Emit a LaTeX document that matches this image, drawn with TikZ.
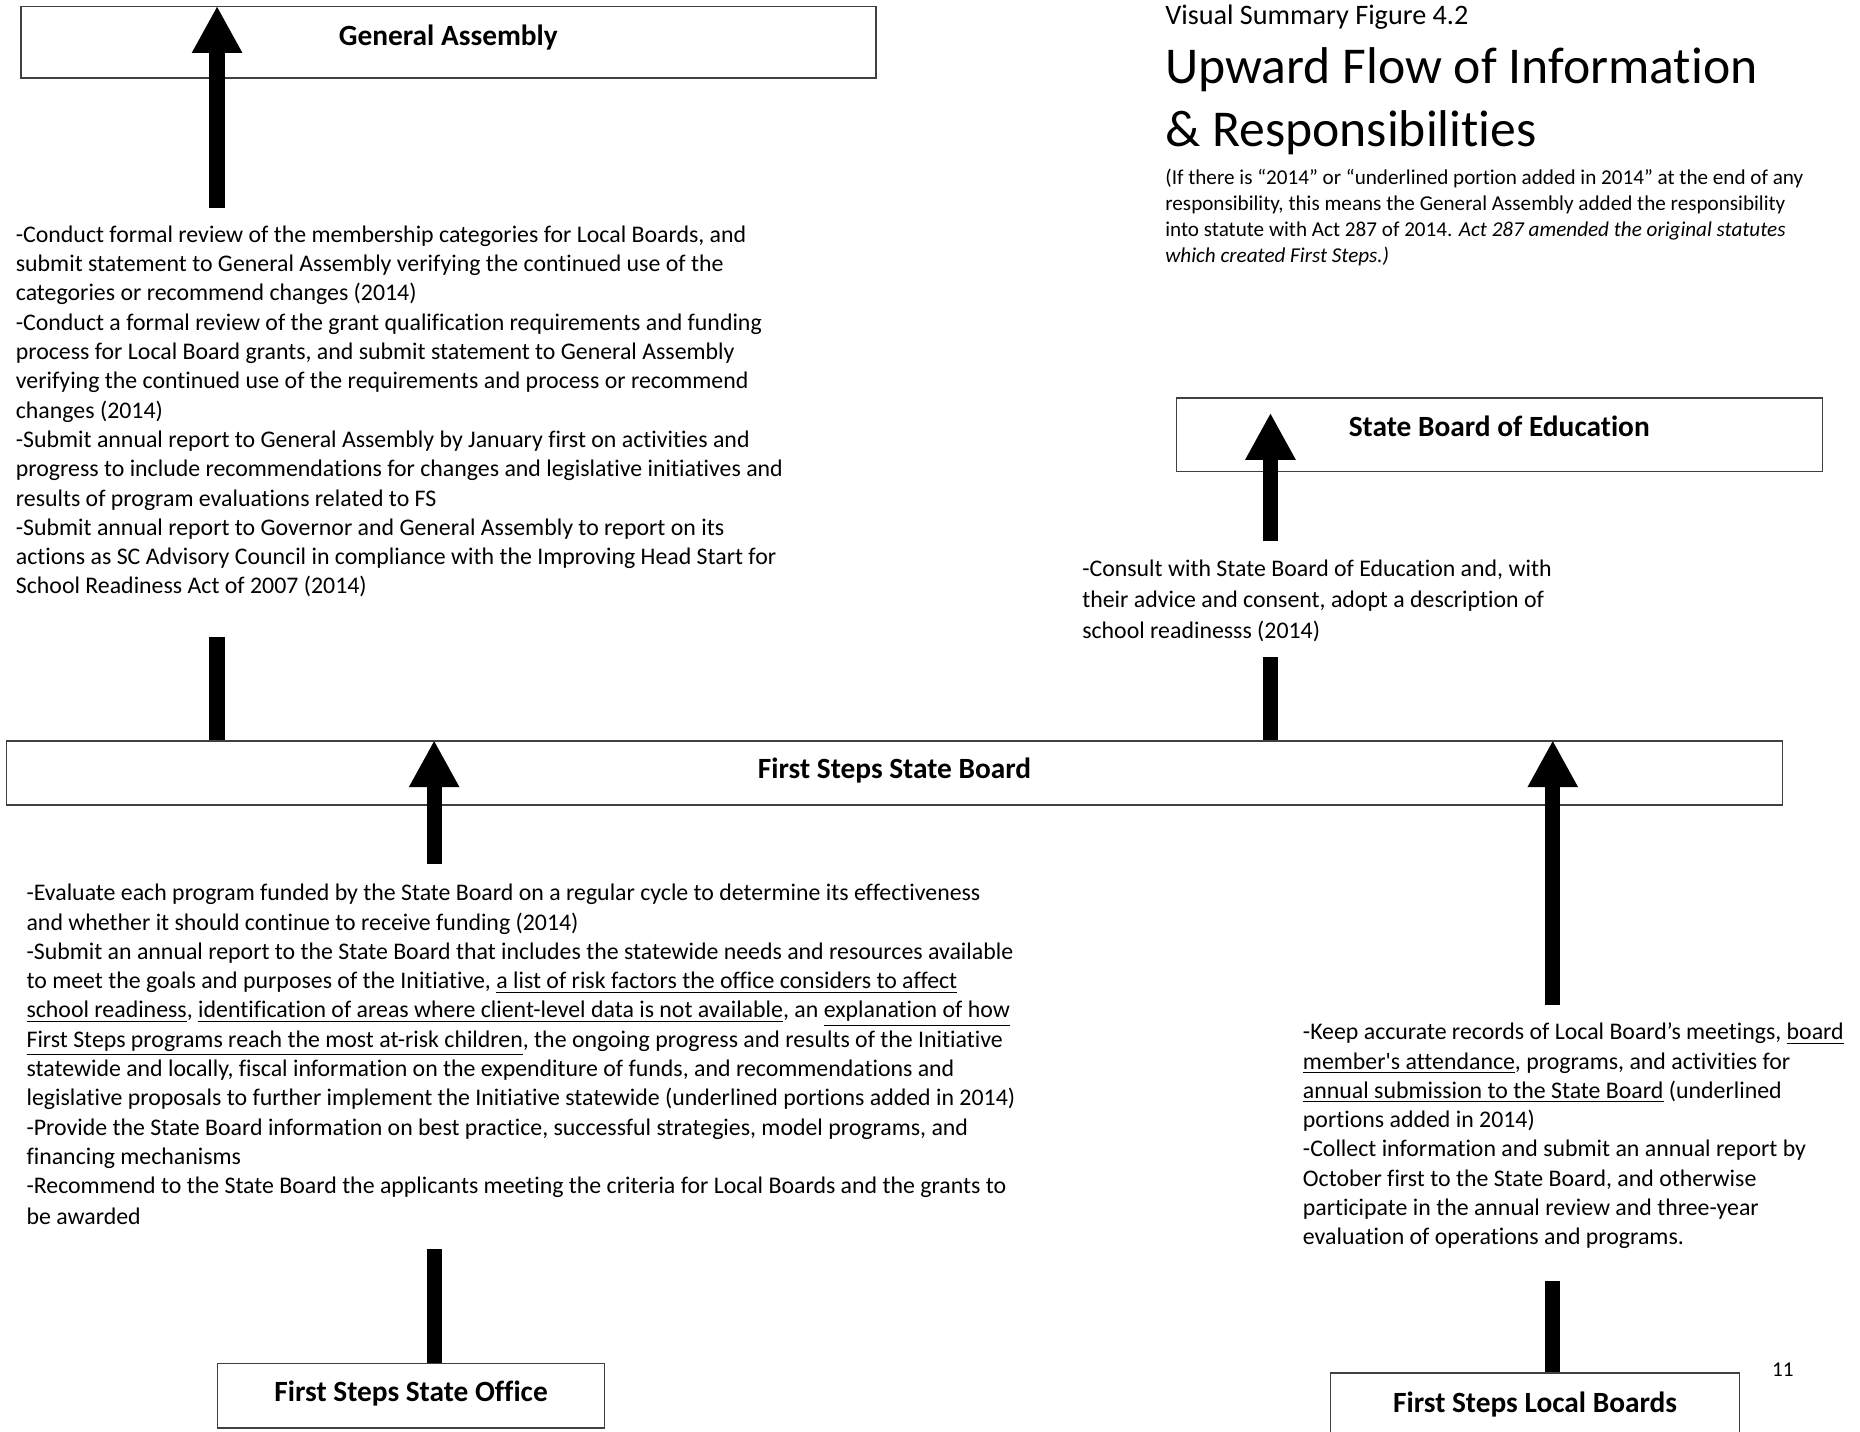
\documentclass[tikz,border=0pt]{standalone}
\usepackage{fontspec}
\setmainfont{Carlito}[Ligatures={TeX,NoCommon}]
\usetikzlibrary{arrows.meta, positioning}

\begin{document}
\begin{tikzpicture}[x=0.505pt, y=-0.505pt,
    every node/.style={inner sep=0pt},
    orgbox/.style={draw=black!75, line width=0.6pt, fill=white, anchor=north west,
      font=\fontsize{12.5}{14}\selectfont\bfseries, text height=8.8pt},
    duties/.style={anchor=north west, align=left, font=\fontsize{10.15}{12.47}\selectfont},
    uparrow/.style={line width=6.5pt, -{Triangle[length=20pt, width=20pt]}},
    upbar/.style={line width=6.5pt}]
  \useasboundingbox (0,0) rectangle (1568,1207);

  % boxes
  \node[orgbox, minimum width=364pt, minimum height=30.3pt, text depth=6.4pt] (ga) at (17,5) {General Assembly};
  \node[orgbox, minimum width=275pt, minimum height=31.3pt, text depth=7pt] (sbe) at (991,335) {State Board of Education};
  \node[orgbox, minimum width=756pt, minimum height=27.3pt, text depth=4pt] (fssb) at (5,624) {First Steps State Board};
  \node[orgbox, minimum width=164.6pt, minimum height=27.3pt, text depth=3.5pt] (office) at (183,1149) {First Steps State Office};
  \node[orgbox, minimum width=174.2pt, minimum height=32.3pt, text depth=8pt] (local) at (1121,1157) {First Steps Local Boards};

  % title
  \node[anchor=north west, font=\fontsize{12}{14}\selectfont] (fig) at (982,3.5) {Visual Summary Figure 4.2};
  \node[anchor=north west, align=left, font=\fontsize{22}{26.8}\selectfont] (title) at (982,40) {Upward Flow of Information\\ \& Responsibilities};
  \node[anchor=north west, align=left, font=\fontsize{9}{11.1}\selectfont] (note) at (982,142)
    {(If there is “2014” or “underlined portion added in 2014” at the end of any\\
     responsibility, this means the General Assembly added the responsibility\\
     into statute with Act 287 of 2014. \textit{Act 287 amended the original statutes}\\
     \textit{which created First Steps.)}};

  % responsibilities
  \node[duties] (gaduty) at (13,190)
    {-Conduct formal review of the membership categories for Local Boards, and\\
     submit statement to General Assembly verifying the continued use of the\\
     categories or recommend changes (2014)\\
     -Conduct a formal review of the grant qualification requirements and funding\\
     process for Local Board grants, and submit statement to General Assembly\\
     verifying the continued use of the requirements and process or recommend\\
     changes (2014)\\
     -Submit annual report to General Assembly by January first on activities and\\
     progress to include recommendations for changes and legislative initiatives and\\
     results of program evaluations related to FS\\
     -Submit annual report to Governor and General Assembly to report on its\\
     actions as SC Advisory Council in compliance with the Improving Head Start for\\
     School Readiness Act of 2007 (2014)};
  \node[duties, font=\fontsize{10.15}{13.13}\selectfont] (sbeduty) at (912,472)
    {-Consult with State Board of Education and, with\\
     their advice and consent, adopt a description of\\
     school readinesss (2014)};
  \node[duties] (officeduty) at (22,745)
    {-Evaluate each program funded by the State Board on a regular cycle to determine its effectiveness\\
     and whether it should continue to receive funding (2014)\\
     -Submit an annual report to the State Board that includes the statewide needs and resources available\\
     to meet the goals and purposes of the Initiative, \underline{a list of risk factors the office considers to affect}\\
     \underline{school readiness}, \underline{identification of areas where client-level data is not available}, an \underline{explanation of how}\\
     \underline{First Steps programs reach the most at-risk children}, the ongoing progress and results of the Initiative\\
     statewide and locally, fiscal information on the expenditure of funds, and recommendations and\\
     legislative proposals to further implement the Initiative statewide (underlined portions added in 2014)\\
     -Provide the State Board information on best practice, successful strategies, model programs, and\\
     financing mechanisms\\
     -Recommend to the State Board the applicants meeting the criteria for Local Boards and the grants to\\[0.6pt]
     be awarded};
  \node[duties] (localduty) at (1098,862)
    {-Keep accurate records of Local Board’s meetings, \underline{board}\\
     \underline{member\textquotesingle s attendance}, programs, and activities for\\
     \underline{annual submission to the State Board} (underlined\\
     portions added in 2014)\\
     -Collect information and submit an annual report by\\
     October first to the State Board, and otherwise\\
     participate in the annual review and three-year\\
     evaluation of operations and programs.};

  \node[font=\fontsize{9}{11}\selectfont] (page) at (1503,1155) {11};

  % arrows
  \coordinate (gatail) at (183,175);
  \coordinate (gabar) at (183,537);
  \coordinate (sbetail) at (1071,456);
  \coordinate (sbetip) at (1071,348);
  \coordinate (sbebar) at (1071,554);
  \coordinate (officetail) at (366,728);
  \coordinate (officebar) at (366,1053);
  \coordinate (localtail) at (1309,847);
  \coordinate (localbar) at (1309,1080);

  \draw[uparrow] (gatail) -- (gatail |- ga.north);
  \draw[upbar] (gabar) -- (gabar |- fssb.north);
  \draw[uparrow] (sbetail) -- (sbetip);
  \draw[upbar] (sbebar) -- (sbebar |- fssb.north);
  \draw[uparrow] (officetail) -- (officetail |- fssb.north);
  \draw[upbar] (officebar) -- (officebar |- office.north);
  \draw[uparrow] (localtail) -- (localtail |- fssb.north);
  \draw[upbar] (localbar) -- (localbar |- local.north);
\end{tikzpicture}
\end{document}
